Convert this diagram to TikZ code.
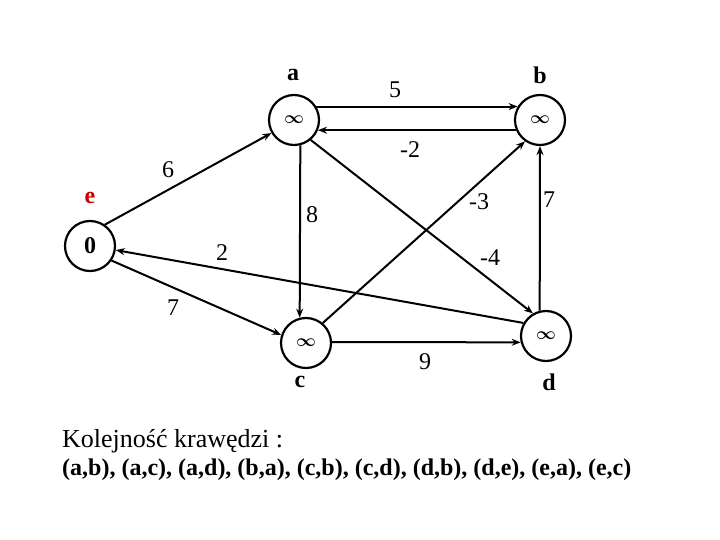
\documentclass[tikz,border=0pt]{standalone}
\usepackage{fontspec}
\setmainfont{Liberation Serif}
\usetikzlibrary{arrows.meta}
\tikzset{
  vert/.style={circle,draw,line width=2.2pt,minimum size=50pt,inner sep=0pt,font=\fontsize{24}{24}\selectfont\bfseries},
  vname/.style={font=\fontsize{24}{24}\selectfont\bfseries},
  wlabel/.style={font=\fontsize{24}{24}\selectfont},
  edge/.style={line width=2pt,-{Stealth[length=9pt,width=7pt]}}
}
\newcommand{\infsym}{{\fontsize{19}{19}\selectfont\boldmath$\infty$}}
\begin{document}
\begin{tikzpicture}[x=1pt,y=-1pt]
\useasboundingbox (0,0) rectangle (720,540);
\node[vert] (a) at (294,120) {\infsym};
\node[vert] (b) at (540,120) {\infsym};
\node[vert] (e) at (90,246) {0};
\node[vert] (c) at (306,343) {\infsym};
\node[vert] (d) at (546,336) {\infsym};
\node[vname] (la) at (293,75) {a};
\node[vname] (lb) at (540,75) {b};
\node[vname,text={rgb,255:red,204;green,0;blue,0}] (le) at (90,198) {e};
\node[vname] (lc) at (300,382) {c};
\node[vname] (ld) at (549,382) {d};
\draw[edge] (a.31) -- (b.149);
\draw[edge] (b.-157) -- (a.-23);
\draw[edge] (a.-76) -- (c.104);
\draw[edge] (a.-50) -- (d.120);
\draw[edge] (c.50) -- (b.-125);
\draw[edge] (c.2) -- (d.194);
\draw[edge] (d.104) -- (b.-90);
\draw[edge] (d.150) -- (e.-9);
\draw[edge] (e.55) -- (a.-150);
\draw[edge] (e.-34) -- (c.162);
\node[wlabel] (w1) at (395,90) {5};
\node[wlabel] (w2) at (410,150) {-2};
\node[wlabel] (w3) at (168,170) {6};
\node[wlabel] (w4) at (312,215) {8};
\node[wlabel] (w5) at (479,202) {-3};
\node[wlabel] (w6) at (549,200) {7};
\node[wlabel] (w7) at (222,253) {2};
\node[wlabel] (w8) at (490,258) {-4};
\node[wlabel] (w9) at (173,308) {7};
\node[wlabel] (w10) at (425,362) {9};
\node[anchor=base west,inner sep=0pt,font=\fontsize{26}{26}\selectfont] (t1) at (62,447) {Kolejność krawędzi :};
\node[anchor=base west,inner sep=0pt,font=\fontsize{24}{24}\selectfont\bfseries] (t2) at (62,475) {(a,b), (a,c), (a,d), (b,a), (c,b), (c,d), (d,b), (d,e), (e,a), (e,c)};
\end{tikzpicture}
\end{document}
